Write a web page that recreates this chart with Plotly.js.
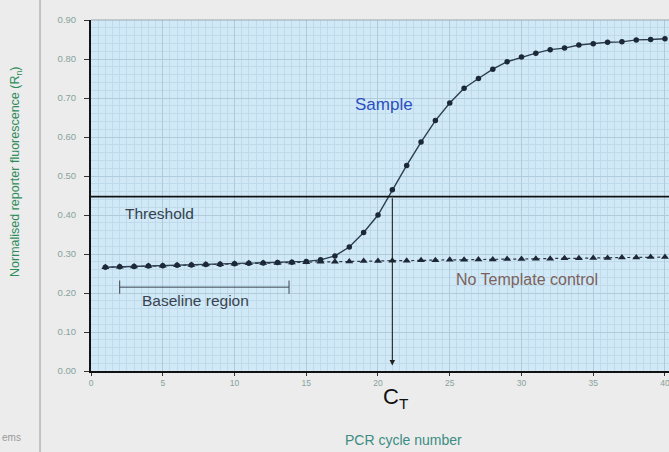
<!DOCTYPE html>
<html>
<head>
<meta charset="utf-8">
<script src="https://cdn.plot.ly/plotly-3.0.1.min.js"></script>
<style>html,body{margin:0;padding:0;background:#ececec;}#chart{width:669px;height:452px;}</style>
</head>
<body>
<div id="chart"></div>
<script>
const cycles = [1,2,3,4,5,6,7,8,9,10,11,12,13,14,15,16,17,18,19,20,21,22,23,24,25,26,27,28,29,30,31,32,33,34,35,36,37,38,39,40];
const sampleValues = [0.266,0.267,0.268,0.269,0.270,0.271,0.272,0.273,0.274,0.275,0.276,0.277,0.278,0.279,0.281,0.285,0.295,0.318,0.355,0.400,0.465,0.527,0.587,0.642,0.687,0.725,0.750,0.774,0.793,0.805,0.815,0.824,0.828,0.836,0.839,0.843,0.844,0.849,0.850,0.852];
const ntcValues = [0.266,0.267,0.268,0.269,0.270,0.271,0.272,0.273,0.274,0.275,0.276,0.277,0.277,0.278,0.279,0.280,0.280,0.281,0.282,0.282,0.283,0.283,0.284,0.284,0.285,0.285,0.286,0.286,0.287,0.287,0.288,0.288,0.289,0.289,0.290,0.290,0.291,0.291,0.292,0.292];
const thresholdValue = 0.447;
const ctCycle = 21;
const baselineStart = 2;
const baselineEnd = 13.8;
const xTicks = [0,5,10,15,20,25,30,35,40];
const yTicks = [0,0.1,0.2,0.3,0.4,0.5,0.6,0.7,0.8,0.9];

const font = "Liberation Sans, Arial, sans-serif";

const traces = [
  {x: cycles, y: ntcValues, type: 'scatter', mode: 'lines+markers',
   line: {color: '#2a3848', width: 1.2, dash: 'dot'},
   marker: {symbol: 'triangle-up', size: 7, color: '#1c2634'}, hoverinfo: 'skip'},
  {x: cycles, y: sampleValues, type: 'scatter', mode: 'lines+markers',
   line: {color: '#2c3e50', width: 1.4},
   marker: {symbol: 'circle', size: 5.5, color: '#1a2838'}, hoverinfo: 'skip'}
];

const layout = {
  width: 669, height: 452,
  margin: {l: 91, r: 0, t: 20, b: 81},
  paper_bgcolor: '#ececec',
  plot_bgcolor: '#d1e9f7',
  showlegend: false,
  font: {family: font},
  xaxis: {
    range: [0, 40.28], tickvals: xTicks, ticktext: xTicks.map(String),
    ticklabeloverflow: 'allow',
    showline: true, linecolor: '#111', linewidth: 2,
    ticks: 'outside', ticklen: 3, tickcolor: '#333',
    tickfont: {size: 8.5, color: '#86a39a', family: font},
    showgrid: true, gridcolor: '#afcbdc', gridwidth: 1,
    minor: {dtick: 0.5, showgrid: true, gridcolor: '#bfdbeb', gridwidth: 1},
    zeroline: false, fixedrange: true
  },
  yaxis: {
    range: [0, 0.9], tickvals: yTicks, tickformat: '.2f',
    ticklabeloverflow: 'allow',
    showline: true, linecolor: '#111', linewidth: 2,
    ticks: 'outside', ticklen: 5, tickcolor: '#333',
    ticklabelstandoff: 6,
    tickfont: {size: 9.5, color: '#86a39a', family: font},
    showgrid: true, gridcolor: '#afcbdc', gridwidth: 1,
    minor: {dtick: 0.02, showgrid: true, gridcolor: '#bfdbeb', gridwidth: 1},
    zeroline: false, fixedrange: true
  },
  shapes: [
    {type: 'line', xref: 'paper', yref: 'y', x0: 0, x1: 1, y0: thresholdValue, y1: thresholdValue,
     line: {color: '#111', width: 1.8}},
    {type: 'line', xref: 'paper', yref: 'paper', x0: 0, x1: 1, y0: 1, y1: 1,
     line: {color: '#9aa8b0', width: 1}},
    {type: 'line', xref: 'x', yref: 'y', x0: baselineStart, x1: baselineEnd, y0: 0.215, y1: 0.215,
     line: {color: '#3a4550', width: 1}},
    {type: 'line', xref: 'x', yref: 'y', x0: baselineStart, x1: baselineStart, y0: 0.198, y1: 0.232,
     line: {color: '#3a4550', width: 1}},
    {type: 'line', xref: 'x', yref: 'y', x0: baselineEnd, x1: baselineEnd, y0: 0.198, y1: 0.232,
     line: {color: '#3a4550', width: 1}},
    {type: 'line', xref: 'paper', yref: 'paper', x0: -0.0882, x1: -0.0882, y0: -0.25, y1: 1.1,
     line: {color: '#c2c2c2', width: 2}}
  ],
  annotations: [
    {x: ctCycle, y: 0.014, ax: ctCycle, ay: thresholdValue, xref: 'x', yref: 'y', axref: 'x', ayref: 'y',
     showarrow: true, arrowhead: 2, arrowsize: 1, arrowwidth: 1.1, arrowcolor: '#222', text: ''},
    {x: 4.74, y: 0.405, xref: 'x', yref: 'y', text: 'Threshold', showarrow: false,
     font: {size: 15.5, color: '#34424e', family: font}},
    {x: 20.4, y: 0.683, xref: 'x', yref: 'y', text: 'Sample', showarrow: false,
     font: {size: 17, color: '#2a4fc0', family: font}},
    {x: 30.36, y: 0.234, xref: 'x', yref: 'y', text: 'No Template control', showarrow: false,
     font: {size: 16, color: '#7c625c', family: font}},
    {x: 7.28, y: 0.182, xref: 'x', yref: 'y', text: 'Baseline region', showarrow: false,
     font: {size: 15.5, color: '#3a4450', family: font}},
    {x: (396 - 91) / 578, y: (371 - 398) / 351, xref: 'paper', yref: 'paper', xanchor: 'center', yanchor: 'middle',
     text: 'C<sub>T</sub>', showarrow: false, font: {size: 22, color: '#111', family: font}},
    {x: (403 - 91) / 578, y: (371 - 440) / 351, xref: 'paper', yref: 'paper', xanchor: 'center', yanchor: 'middle',
     text: 'PCR cycle number', showarrow: false, font: {size: 14, color: '#3b8d82', family: font}},
    {x: (16 - 91) / 578, y: (371 - 172) / 351, xref: 'paper', yref: 'paper', xanchor: 'center', yanchor: 'middle',
     text: 'Normalised reporter fluorescence (R<sub>n</sub>)',
     textangle: -90, showarrow: false, font: {size: 12.5, color: '#2e8c5c', family: font}},
    {x: -0.158, y: (371 - 437) / 351, xref: 'paper', yref: 'paper', xanchor: 'left', yanchor: 'middle',
     text: 'ems', showarrow: false, font: {size: 10, color: '#9a9a9a', family: font}}
  ]
};

Plotly.newPlot('chart', traces, layout, {staticPlot: true, displayModeBar: false});
</script>
</body>
</html>
